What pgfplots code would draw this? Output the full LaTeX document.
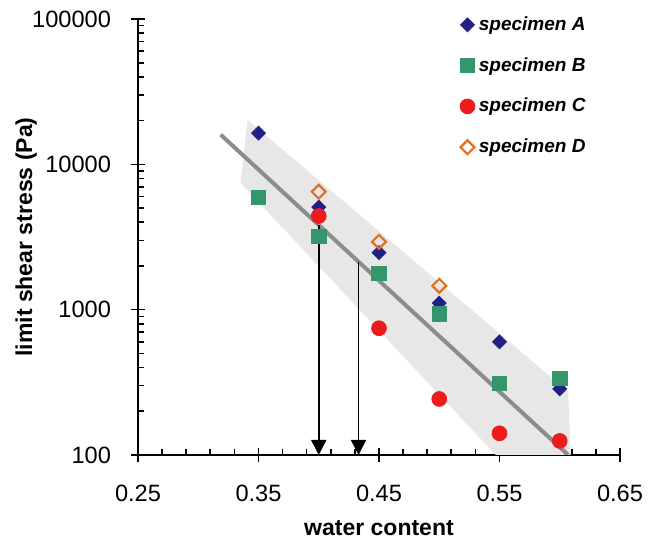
\documentclass[border=0pt]{standalone}
\usepackage{fontspec}
\setmainfont{Liberation Sans}
\usepackage{pgfplots}
\pgfplotsset{compat=1.18}
\usetikzlibrary{arrows.meta}
\definecolor{cA}{RGB}{32,32,135}
\definecolor{cB}{RGB}{52,150,108}
\definecolor{cC}{RGB}{236,28,28}
\definecolor{cD}{RGB}{226,112,34}
\definecolor{bandc}{RGB}{231,231,231}
\definecolor{trendc}{RGB}{140,140,140}
\begin{document}
\begin{tikzpicture}
\path (-69pt,-43pt) rectangle (256pt,227.5pt);
\begin{axis}[
  width=241pt, height=218pt, scale only axis,
  xmin=0.25, xmax=0.65, ymin=100, ymax=100000, ymode=log,
  axis lines=left, axis line style={-, line width=0.8pt},
  xtick={0.25,0.35,0.45,0.55,0.65}, xticklabels={0.25,0.35,0.45,0.55,0.65},
  minor x tick num=4,
  ytick={100,1000,10000,100000}, yticklabels={100,1000,10000,100000},
  tick align=center, major tick length=7pt, minor tick length=3pt,
  tick style={black, line width=0.8pt},
  minor x tick style={yshift=1.5pt},
  minor y tick style={xshift=1.5pt},
  ticklabel style={font=\fontsize{11.8}{13}\selectfont},
  xticklabel style={yshift=-8pt},
  yticklabel style={xshift=-6.5pt},
  xlabel={water content}, ylabel={limit shear stress (Pa)},
  label style={font=\fontsize{11.5}{13}\selectfont\bfseries},
  xlabel style={at={(axis description cs:0.5,-0.168)}, anchor=center},
  ylabel style={at={(axis description cs:-0.232,0.5)}, anchor=center},
  legend style={draw=none, fill=none, at={(0.655,1.025)}, anchor=north west,
    font=\fontsize{9.5}{11}\selectfont\bfseries\itshape, row sep=8pt},
  legend cell align=left,
  legend image code/.code={\draw[mark repeat=2,mark phase=2,#1] plot coordinates {(0cm,0cm) (0.15cm,0cm) (0.3cm,0cm)};},
]
\addplot[fill=bandc, draw=none, forget plot] coordinates {(0.341,20200) (0.607,273) (0.609,100) (0.547,100) (0.335,7460)} -- cycle;
\addplot[trendc, line width=2pt, forget plot] coordinates {(0.3186,16000) (0.607,100)};
\addplot[black, line width=0.8pt, -{Triangle[width=7.5pt,length=7.5pt]}, forget plot] coordinates {(0.40,3830) (0.40,100)};
\addplot[black, line width=0.8pt, -{Triangle[width=7.5pt,length=7.5pt]}, forget plot] coordinates {(0.433,2140) (0.433,100)};

\addplot[only marks, mark=square*, mark size=2.45pt, mark options={rotate=45, fill=cA, draw=cA}]
  coordinates {(0.35,16400) (0.40,5080) (0.45,2470) (0.50,1110) (0.55,600) (0.60,285)};
\addlegendentry{specimen A}
\addplot[only marks, mark=square*, mark size=3.6pt, mark options={fill=cB, draw=cB}]
  coordinates {(0.35,5930) (0.40,3180) (0.45,1780) (0.50,935) (0.55,310) (0.60,337)};
\addlegendentry{specimen B}
\addplot[only marks, mark=*, mark size=3.7pt, mark options={fill=cC, draw=cC}]
  coordinates {(0.40,4410) (0.45,745) (0.50,243) (0.55,141) (0.60,125)};
\addlegendentry{specimen C}
\addplot[only marks, mark=square, mark size=2.45pt, mark options={rotate=45, draw=cD, line width=1.1pt}]
  coordinates {(0.40,6480) (0.45,2930) (0.50,1460)};
\addlegendentry{specimen D}
\end{axis}
\end{tikzpicture}
\end{document}
